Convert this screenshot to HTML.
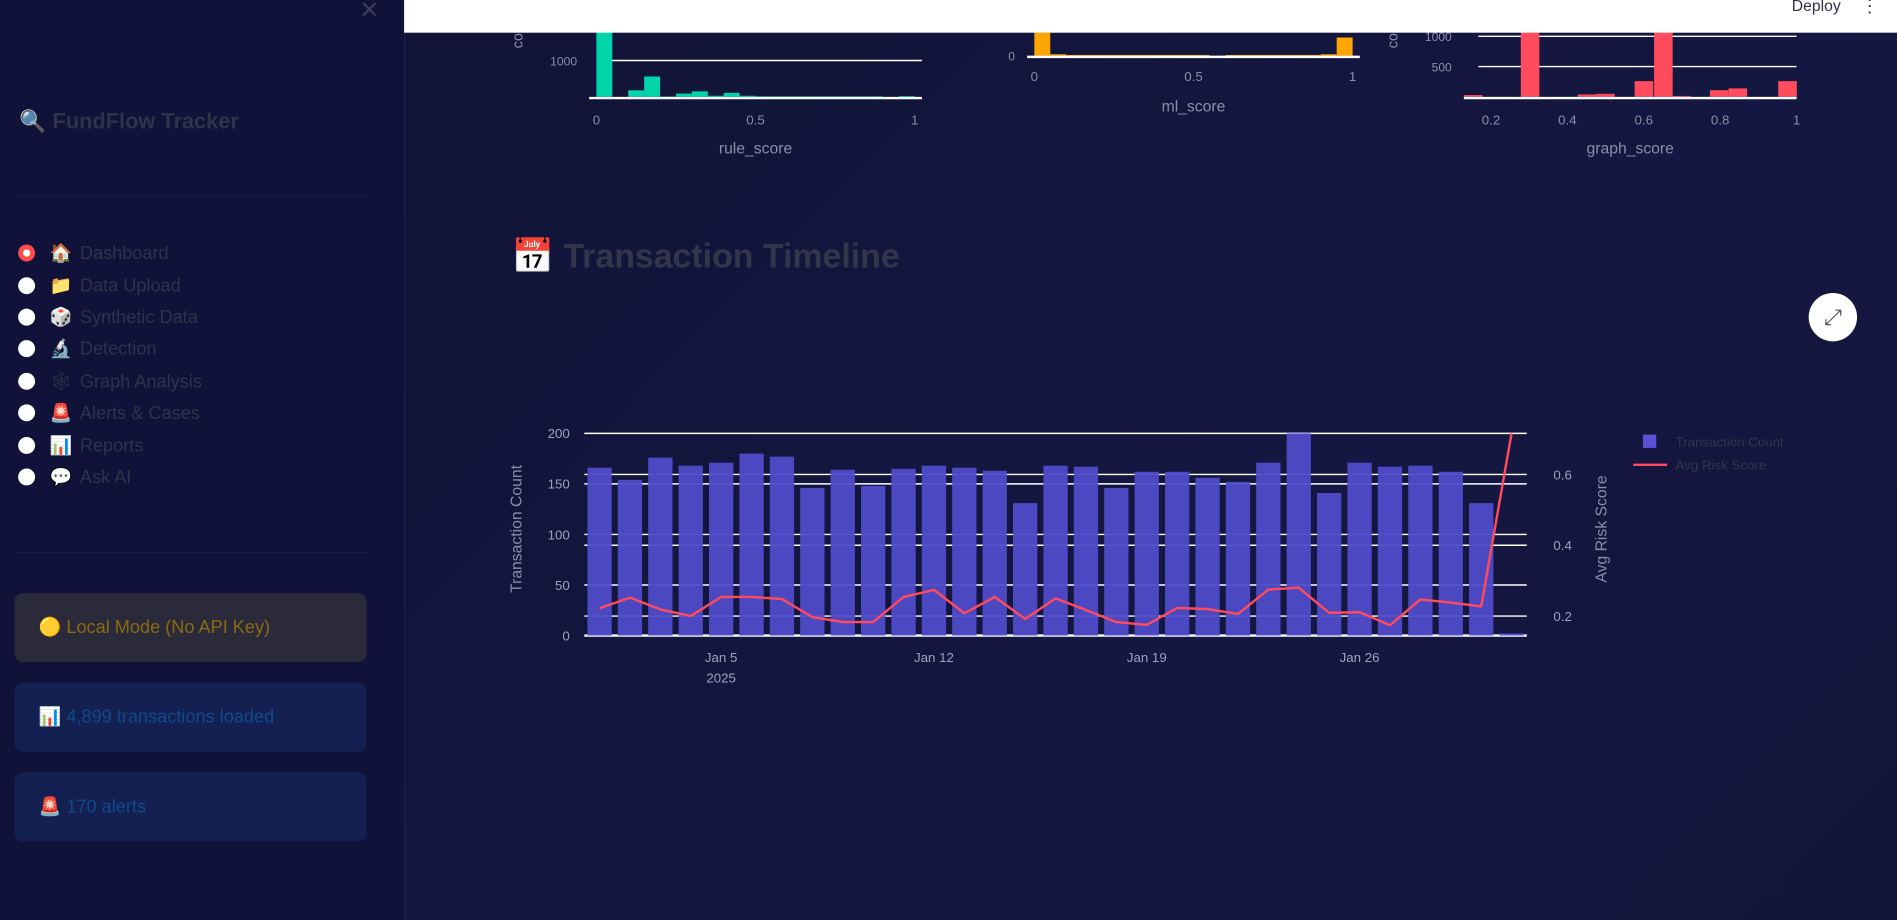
<!DOCTYPE html>
<html><head><meta charset="utf-8">
<style>
html,body{margin:0;padding:0;width:1897px;height:920px;overflow:hidden;background:#121539;}
#wrap{position:absolute;left:0;top:0;width:1568px;height:760px;transform:scale(1.20982,1.21053);transform-origin:0 0;font-family:"Liberation Sans","Noto Sans CJK SC",sans-serif;}
#side{position:absolute;left:0;top:0;width:334px;height:760px;background:#10123a;border-right:1px solid #1d2258;}
#main{position:absolute;left:335px;top:0;width:1233px;height:760px;background:linear-gradient(135deg,#111437,#141741 60%,#121539);}
.nav{position:absolute;left:15px;font-size:15px;color:#2f3349;}
.radio{position:absolute;left:0;top:1px;width:14px;height:14px;border-radius:50%;background:#fff;}
.nav .ic{position:absolute;left:26px;top:-1px;font-size:15px;}
.nav .tx{position:absolute;left:51px;top:0;white-space:nowrap;}
.box{position:absolute;left:12px;width:291px;height:57px;border-radius:7px;font-size:15px;}
.box span{position:absolute;left:20px;top:19px;white-space:nowrap;}
</style></head><body>
<div id="wrap">
<div id="side">
  <div style="position:absolute;left:297px;top:-4px;font-size:20px;color:#3a3d55;">✕</div>
  <div style="position:absolute;left:16px;top:90px;font-size:18px;font-weight:bold;color:#2f3349;white-space:nowrap;">🔍 FundFlow Tracker</div>
  <div style="position:absolute;left:12px;top:161px;width:291px;height:1px;background:#191c48;"></div>
  <div class="nav" style="top:201px"><div class="radio" style="background:#ff4b4b;"><div style="position:absolute;left:4px;top:4px;width:6px;height:6px;border-radius:50%;background:#fff"></div></div><span class="ic">🏠</span><span class="tx">Dashboard</span></div>
  <div class="nav" style="top:228px"><div class="radio"></div><span class="ic">📁</span><span class="tx">Data Upload</span></div>
  <div class="nav" style="top:254px"><div class="radio"></div><span class="ic">🎲</span><span class="tx">Synthetic Data</span></div>
  <div class="nav" style="top:280px"><div class="radio"></div><span class="ic">🔬</span><span class="tx">Detection</span></div>
  <div class="nav" style="top:307px"><div class="radio"></div><span class="ic">🕸</span><span class="tx">Graph Analysis</span></div>
  <div class="nav" style="top:333px"><div class="radio"></div><span class="ic">🚨</span><span class="tx">Alerts &amp; Cases</span></div>
  <div class="nav" style="top:360px"><div class="radio"></div><span class="ic">📊</span><span class="tx">Reports</span></div>
  <div class="nav" style="top:386px"><div class="radio"></div><span class="ic">💬</span><span class="tx">Ask AI</span></div>
  <div style="position:absolute;left:12px;top:456px;width:291px;height:1px;background:#191c48;"></div>
  <div class="box" style="top:490px;background:#2a2a3a;color:#8a6a12;"><span>🟡 Local Mode (No API Key)</span></div>
  <div class="box" style="top:564px;background:#142052;color:#0f4a8a;"><span>📊 4,899 transactions loaded</span></div>
  <div class="box" style="top:638px;background:#142052;color:#0f4a8a;"><span>🚨 170 alerts</span></div>
</div>
<div id="main"></div>
<svg id="svg" width="1568" height="760" style="position:absolute;left:0;top:0" font-family="Liberation Sans, sans-serif"></svg>
<div style="position:absolute;left:334px;top:0;width:1234px;height:27px;background:#fff;">
  <div style="position:absolute;left:1147px;top:-3px;font-size:13px;color:#31333f;">Deploy</div>
  <div style="position:absolute;left:1204px;top:-4px;font-size:15px;color:#31333f;">⋮</div>
</div>
<div style="position:absolute;left:423px;top:195px;font-size:28px;font-weight:bold;color:#33354a;white-space:nowrap;">📅 Transaction Timeline</div>
<div style="position:absolute;left:1495px;top:242px;width:40px;height:40px;border-radius:50%;background:#fff;color:#555;font-size:18px;text-align:center;line-height:40px;">⤢</div>
</div>
<script>
// Timeline data
const days = [1,2,3,4,5,6,7,8,9,10,11,12,13,14,15,16,17,18,19,20,21,22,23,24,25,26,27,28,29,30,31];
const counts = [166,154,176,168,171,180,177,146,164,148,165,168,166,163,131,168,167,146,162,162,156,152,171,200,141,171,167,168,162,131,2];
const risk = [0.222,0.252,0.219,0.200,0.254,0.254,0.248,0.197,0.183,0.183,0.254,0.274,0.208,0.254,0.192,0.250,0.217,0.183,0.175,0.223,0.220,0.206,0.275,0.280,0.209,0.211,0.174,0.247,0.238,0.227,0.716];
const yTicks = [0,50,100,150,200];
const y2Ticks = [0.2,0.4,0.6];
const xTickDays = [5,12,19,26];
const xTickLabels = ["Jan 5","Jan 12","Jan 19","Jan 26"];
// Histogram data
const ruleBins = [2500,0,180,560,10,90,150,30,110,30,15,15,15,15,15,15,15,15,0,20];
const mlBins = [900,40,20,20,20,20,20,20,20,20,20,0,20,20,20,20,20,20,40,500];
const graphX = [0.129,0.278,0.427,0.475,0.576,0.627,0.675,0.773,0.822,0.952];
const graphBins = [30,2000,40,50,260,2000,15,110,140,260];

const svg = document.getElementById('svg');
const NS = 'http://www.w3.org/2000/svg';
function mk(tag, attrs, parent){const e=document.createElementNS(NS,tag);for(const k in attrs)e.setAttribute(k,attrs[k]);(parent||svg).appendChild(e);return e;}
function txt(s,attrs,parent){const t=mk('text',attrs,parent);t.textContent=s;return t;}

// ----- timeline chart
const L=483,R=1262,T=358,B=525;
const x = d => L + (d - 0.5) * (R - L) / 31;
const bw = (R-L)/31*0.8;
const y = v => B - v*(B-T)/200;
const Y2MIN=0.145,Y2MAX=0.716;
const y2 = v => B - (v-Y2MIN)*(B-T)/(Y2MAX-Y2MIN);
const g = mk('g',{});


yTicks.forEach(v=>{
  const l=mk('line',{x1:L,x2:R,y1:y(v),y2:y(v),stroke:'#ffffff','stroke-width':v===0?2:1.2},g);
  
  
  const t=txt(String(v),{x:L-12,y:y(v)+4,'text-anchor':'end','font-size':11,fill:'#9ea3bd'},g);
  
  
});
y2Ticks.forEach(v=>{
  const l=mk('line',{x1:L,x2:R,y1:y2(v),y2:y2(v),stroke:'#ffffff','stroke-width':1.2},g);
  
  
  const t=txt(v.toFixed(1),{x:R+22,y:y2(v)+4,'font-size':11,fill:'#9ea3bd'},g);
  
  
});
days.forEach((d,i)=>{
  const r=mk('rect',{x:x(d)-bw/2,y:y(counts[i]),width:bw,height:B-y(counts[i]),fill:'#4f4bc9','fill-opacity':0.95},g);
  
  
});
const pts = days.map((d,i)=>x(d).toFixed(1)+','+y2(risk[i]).toFixed(1)).join(' ');
const pl=mk('polyline',{points:pts,fill:'none',stroke:'#ff4b5c','stroke-width':2,'stroke-linejoin':'round'},g);


xTickDays.forEach((d,i)=>{
  const t=txt(xTickLabels[i],{x:x(d),y:B+22,'text-anchor':'middle','font-size':11,fill:'#9ea3bd'},g);
  
  
});
const yr=txt('2025',{x:x(5),y:B+39,'text-anchor':'middle','font-size':11,fill:'#9ea3bd'},g);


const yt=txt('Transaction Count',{x:0,y:0,transform:'translate(431,437) rotate(-90)','text-anchor':'middle','font-size':13,fill:'#8a8fa8'},g);


const y2t=txt('Avg Risk Score',{x:0,y:0,transform:'translate(1328,437) rotate(-90)','text-anchor':'middle','font-size':13,fill:'#8a8fa8'},g);


// legend
const lg=mk('g',{},g);


const l1=mk('rect',{x:1358,y:359,width:11,height:11,fill:'#5a52d5'},lg);


const lt1=txt('Transaction Count',{x:1385,y:369,'font-size':11,fill:'#33364c'},lg);


const l2=mk('line',{x1:1350,x2:1378,y1:384,y2:384,stroke:'#ff4b5c','stroke-width':2},lg);


const lt2=txt('Avg Risk Score',{x:1385,y:388,'font-size':11,fill:'#33364c'},lg);



// ----- histograms
function hist(name, x0, x1, base, pxPer, xmin, xmax, xs, vals, binW, color, grid, ticks, title, tickY, titleY){
  const hg=mk('g',{});
  
  
  const sx=v=>x0+(v-xmin)*(x1-x0)/(xmax-xmin);
  grid.forEach(gv=>{
    const l=mk('line',{x1:x0+12,x2:x1,y1:base-gv*pxPer,y2:base-gv*pxPer,stroke:'#fff','stroke-width':1.2},hg);
    
    
    const t=txt(String(gv),{x:x0-10,y:base-gv*pxPer+4,'text-anchor':'end','font-size':10,fill:'#8a8fa8'},hg);
    
    
  });
  vals.forEach((v,i)=>{
    const r=mk('rect',{x:sx(xs[i]),y:base-v*pxPer,width:sx(xs[i]+binW)-sx(xs[i]),height:v*pxPer,fill:color},hg);
    
    
  });
  const bl=mk('line',{x1:x0,x2:x1,y1:base+1,y2:base+1,stroke:'#fff','stroke-width':2},hg);
  
  
  ticks.forEach(tv=>{
    const t=txt(String(tv),{x:sx(tv),y:tickY,'text-anchor':'middle','font-size':11,fill:'#8a8fa8'},hg);
    
    
  });
  const tt=txt(title,{x:(x0+x1)/2,y:titleY,'text-anchor':'middle','font-size':13,fill:'#8a8fa8'},hg);
  
  
}
const ruleXs=ruleBins.map((_,i)=>i*0.05);
hist('rule-score-histogram',487,762,80,0.03,-0.0227,1.0227,ruleXs,ruleBins,0.05,'#00d4aa',[1000],[0,0.5,1],'rule_score',103,127);
const mlXs=mlBins.map((_,i)=>i*0.05);
hist('ml-score-histogram',849,1124,46,0.03,-0.0227,1.0227,mlXs,mlBins,0.05,'#ffa500',[],[0,0.5,1],'ml_score',67,92);
const zt=txt('0',{x:839,y:50,'text-anchor':'end','font-size':10,fill:'#8a8fa8'});


hist('graph-score-histogram',1210,1485,80,0.05,0.129,1.0,graphX,graphBins,0.0486,'#ff4b5c',[500,1000],[0.2,0.4,0.6,0.8,1],'graph_score',103,127);
const c1=txt('co',{x:0,y:0,transform:'translate(432,40) rotate(-90)','font-size':12,fill:'#8a8fa8'});


const c2=txt('co',{x:0,y:0,transform:'translate(1155,40) rotate(-90)','font-size':12,fill:'#8a8fa8'});


</script>
</body></html>
